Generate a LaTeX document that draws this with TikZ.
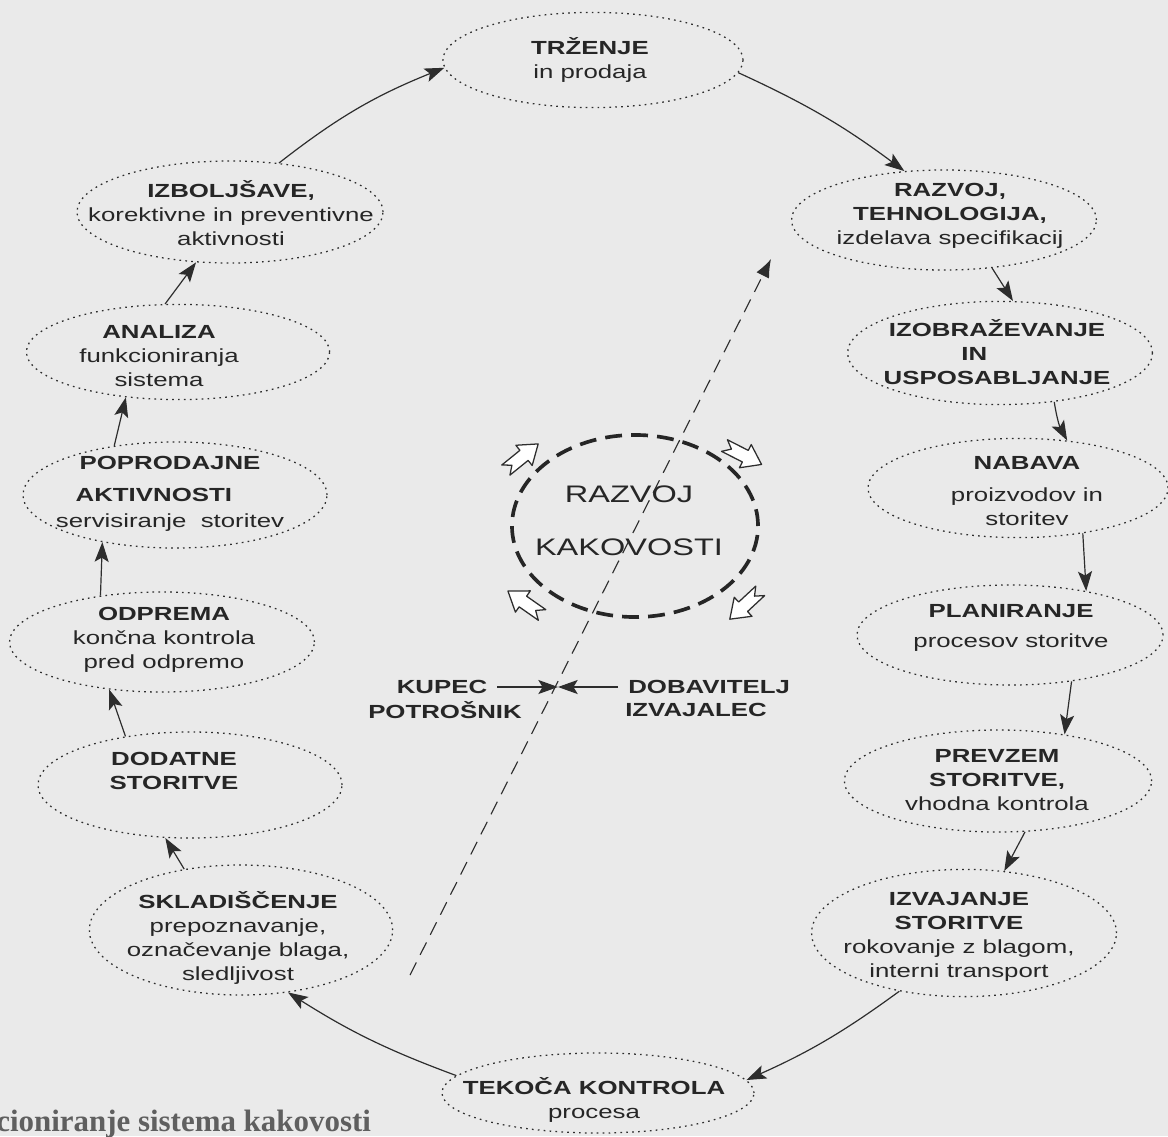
\documentclass[tikz,border=0pt]{standalone}
\usepackage{fontspec}
\setmainfont{Liberation Sans}[FakeStretch=1.36]
\newfontfamily\capfont{Liberation Serif}
\usetikzlibrary{shapes.geometric,arrows.meta,positioning,calc}
\definecolor{scangray}{RGB}{234,234,234}
\definecolor{inkdark}{RGB}{45,45,45}
\definecolor{captiongray}{RGB}{95,95,95}

\tikzset{
  cyc/.style={ellipse, draw=inkdark, line width=0.9pt, dash pattern=on 1.2pt off 3pt, minimum width=7.62cm, inner sep=0pt},
  txt/.style={font=\fontsize{13.5}{17}\selectfont, align=center, inner sep=0pt, text=black!85},
  lbl/.style={font=\fontsize{13.5}{17}\selectfont\bfseries, inner sep=0.25cm, text=black!85},
  flow/.style={-{Stealth[length=14pt,width=10pt,inset=3pt]}, line width=0.85pt, draw=inkdark},
}

\newcommand{\turnarrow}[2]{%
  \draw[line width=0.9pt, draw=inkdark, fill=white, line join=round, shift={#1}, rotate=#2, scale=1.3]
    (16,0) -- (2,10) -- (2,5) -- (-16,5) -- (-10,0) -- (-16,-5) -- (2,-5) -- (2,-10) -- cycle;}

\begin{document}
\begin{tikzpicture}[x=0.025cm, y=-0.025cm]
    \useasboundingbox (0,0) rectangle (1168,1136);
    \fill[scangray] (0,0) rectangle (1168,1136);

    % the cycle, clockwise from the top
    \node[cyc, minimum width=7.5cm, minimum height=2.38cm] (trz) at (593,60) {};
    \node[cyc, minimum height=2.5cm] (raz) at (944,220) {};
    \node[cyc, minimum height=2.58cm] (izo) at (1000,353) {};
    \node[cyc, minimum width=7.5cm, minimum height=2.48cm] (nab) at (1018,488) {};
    \node[cyc, minimum width=7.65cm, minimum height=2.5cm] (pla) at (1010,635) {};
    \node[cyc, minimum width=7.68cm, minimum height=2.55cm] (pre) at (998,781) {};
    \node[cyc, minimum height=3.18cm] (izv) at (964,933) {};
    \node[cyc, minimum width=7.8cm, minimum height=2cm] (tek) at (598,1093) {};
    \node[cyc, minimum width=7.58cm, minimum height=3.25cm] (skl) at (241,930) {};
    \node[cyc, minimum width=7.6cm, minimum height=2.65cm] (dod) at (190,785) {};
    \node[cyc, minimum height=2.5cm] (odp) at (162,642) {};
    \node[cyc, minimum width=7.6cm, minimum height=2.65cm] (pop) at (175,495) {};
    \node[cyc, minimum width=7.58cm, minimum height=2.38cm] (ana) at (178,352) {};
    \node[cyc, minimum width=7.65cm, minimum height=2.55cm] (izb) at (230,212) {};

    \node[txt] (trz-t) at (590,60) {\textbf{TRŽENJE}\\in prodaja};
    \node[txt] (raz-t) at (950,216) {\textbf{RAZVOJ,}\\\textbf{TEHNOLOGIJA,}\\izdelava specifikacij};
    \node[txt] (izo-t) at (997,352) {\textbf{IZOBRAŽEVANJE}\\\textbf{IN}\hspace*{2.4em}\mbox{}\\\textbf{USPOSABLJANJE}};
    \node[txt] (nab-t) at (1027,491) {\textbf{NABAVA}\\[5.5pt]proizvodov in\\storitev};
    \node[txt] (pla-t) at (1011,628) {\textbf{PLANIRANJE}\\[4pt]procesov storitve};
    \node[txt] (pre-t) at (997,780) {\textbf{PREVZEM}\\\textbf{STORITVE,}\\vhodna kontrola};
    \node[txt] (izv-t) at (959,937) {\textbf{IZVAJANJE}\\\textbf{STORITVE}\\rokovanje z blagom,\\interni transport};
    \node[txt] (tek-t) at (594,1100) {\textbf{TEKOČA KONTROLA}\\procesa};
    \node[txt] (skl-t) at (238,938) {\textbf{SKLADIŠČENJE}\\prepoznavanje,\\označevanje blaga,\\sledljivost};
    \node[txt] (dod-t) at (174,771) {\textbf{DODATNE}\\\textbf{STORITVE}};
    \node[txt] (odp-t) at (164,640) {\textbf{ODPREMA}\\končna kontrola\\pred odpremo};
    \node[txt] (pop-t) at (170,494) {\textbf{POPRODAJNE}\\[5.5pt]\textbf{AKTIVNOSTI}\hspace*{1.7em}\mbox{}\\[1.5pt]servisiranje\ \ storitev};
    \node[txt] (ana-t) at (159,356) {\textbf{ANALIZA}\\funkcioniranja\\sistema};
    \node[txt] (izb-t) at (231,213) {\textbf{IZBOLJŠAVE,}\\korektivne in preventivne\\aktivnosti};

    \draw[flow] (trz.-5) to[bend left=6] (raz.129);
    \draw[flow] (raz.-45) -- (izo.76);
    \draw[flow] (izo.-42) to[bend right=10] (nab.44);
    \draw[flow] (nab.-35) -- (pla.30);
    \draw[flow] (pla.-37) -- (pre.35);
    \draw[flow] (pre.-62) -- (izv.57);
    \draw[flow] (izv.222) to[bend left=6] (tek.5);
    \draw[flow] (tek.173) to[bend left=6] (skl.-53);
    \draw[flow] (skl.133) -- (dod.-115);
    \draw[flow] (dod.143) -- (odp.-138);
    \draw[flow] (odp.143) -- (pop.-147);
    \draw[flow] (pop.141) -- (ana.-139);
    \draw[flow] (ana.105) -- (izb.-124);
    \draw[flow] (izb.45) to[bend left=8] (trz.183);

    % centre
    \node[ellipse, draw=black!85, line width=2.6pt, dash pattern=on 12pt off 6.5pt,
          minimum width=6.15cm, minimum height=4.55cm] (core) at (635,526) {};
    \node[font=\fontsize{17}{37.5}\selectfont, align=center, inner sep=0pt, text=black!85] (core-t) at (629,521) {RAZVOJ\\KAKOVOSTI};
    \turnarrow{(522,457)}{39}
    \turnarrow{(743,455)}{-27}
    \turnarrow{(745,605)}{-137}
    \turnarrow{(525,603)}{145}

    % customer and supplier
    \coordinate (meet) at (558,687);
    \node[lbl] (kup) at (442,687) {KUPEC};
    \node[lbl] (pot) at (445,710) {POTROŠNIK};
    \node[lbl, anchor=west] (dob) at (618,687) {DOBAVITELJ};
    \node[lbl, anchor=west] (izj) at (615,710) {IZVAJALEC};
    \draw[flow] (kup.east) -- (meet);
    \draw[flow] (dob.west) -- (meet);

    \coordinate (dfoot) at (410,975);
    \coordinate (dhead) at (771,259);
    \draw[draw=inkdark, line width=0.8pt, dash pattern=on 10pt off 6pt,
          -{Latex[length=13pt,width=10pt]}] (dfoot) -- (dhead);

    \node[anchor=base west, inner sep=0pt, text=captiongray,
          font=\capfont\bfseries\fontsize{22}{24}\selectfont] (caption) at (-4,1131) {cioniranje sistema kakovosti};
\end{tikzpicture}
\end{document}
